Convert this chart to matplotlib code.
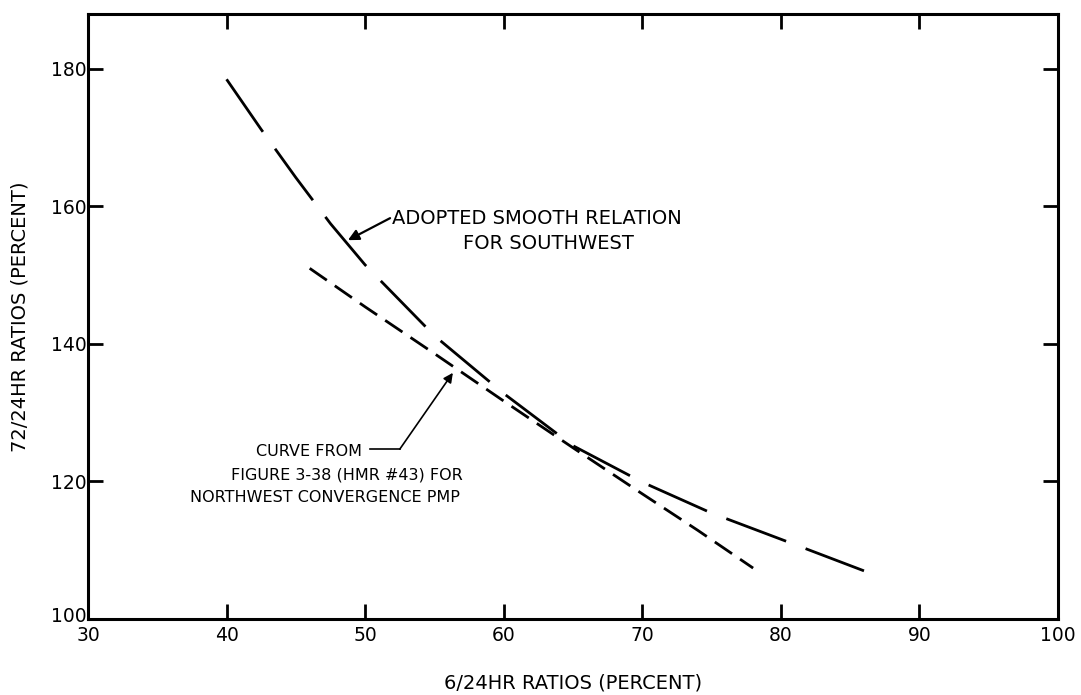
import matplotlib
matplotlib.use("Agg")
import matplotlib.pyplot as plt
import matplotlib.transforms as mtransforms

# ---- data ----
adopted_x = [40, 42.5, 45, 47.5, 50, 55, 60, 65, 70, 75, 80, 86]
adopted_y = [178.5, 171.2, 164.2, 157.5, 151.5, 141.2, 132.8, 125.2, 119.9, 115.4, 111.6, 107.0]

nw_x = [46, 50, 55, 60, 65, 70, 74, 78]
nw_y = [151.0, 145.4, 138.6, 131.7, 124.9, 118.2, 112.9, 107.4]

x_ticks = [30, 40, 50, 60, 70, 80, 90, 100]
y_ticks = [100, 120, 140, 160, 180]

x_label = "6/24HR RATIOS (PERCENT)"
y_label = "72/24HR RATIOS (PERCENT)"
label_adopted = ["ADOPTED SMOOTH RELATION", "FOR SOUTHWEST"]
label_nw = ["CURVE FROM", "FIGURE 3-38 (HMR #43) FOR", "NORTHWEST CONVERGENCE PMP"]

plt.rcParams['font.family'] = ['DejaVu Sans']
plt.rcParams['lines.scale_dashes'] = False

fig = plt.figure(figsize=(10.81, 6.95), dpi=100)
ax = fig.add_axes([0.0814, 0.1094, 0.8973, 0.8705])

ax.plot(adopted_x, adopted_y, color='black', lw=2.0, dashes=(46, 15), solid_capstyle='butt')
ax.plot(nw_x, nw_y, color='black', lw=2.0, dashes=(15, 7), solid_capstyle='butt')

ax.set_xlim(30, 100)
ax.set_ylim(100, 188)
ax.set_xticks(x_ticks)
ax.set_yticks(y_ticks)
ax.tick_params(direction='in', length=11, width=2, top=True, right=True,
               labelsize=13.5)
ax.tick_params(axis='y', pad=1)
ax.tick_params(axis='x', pad=5)
for s in ax.spines.values():
    s.set_linewidth(2.2)

# nudge the "100" y label up a little so it does not collide with "30"
offset = mtransforms.ScaledTranslation(0, 3 / 72, fig.dpi_scale_trans)
ylabels = ax.get_yticklabels()
ylabels[0].set_transform(ylabels[0].get_transform() + offset)

ax.set_xlabel(x_label, fontsize=14)
ax.set_ylabel(y_label, fontsize=14)
ax.xaxis.set_label_coords(0.5, -0.1058)
ax.xaxis.label.set_va('center')
ax.yaxis.set_label_coords(-0.070, 0.5)
ax.yaxis.label.set_va('center')

# Adopted annotation
ax.annotate("", xy=(48.76, 155.1), xytext=(51.8, 158.3),
            arrowprops=dict(arrowstyle='-|>', color='black', lw=1.6,
                            mutation_scale=16, shrinkA=0, shrinkB=0))
ax.text(51.93, 158.3, label_adopted[0], ha='left', va='center', fontsize=14)
ax.text(63.26, 154.65, label_adopted[1], ha='center', va='center', fontsize=14)

# NW annotation
ax.plot([50.35, 52.5], [124.7, 124.7], color='black', lw=1.2)
ax.annotate("", xy=(56.33, 135.8), xytext=(52.5, 124.7),
            arrowprops=dict(arrowstyle='-|>', color='black', lw=1.2,
                            mutation_scale=14, shrinkA=0, shrinkB=0))
ax.text(49.77, 124.42, label_nw[0], ha='right', va='center', fontsize=11.5)
ax.text(48.69, 120.93, label_nw[1], ha='center', va='center', fontsize=11.5)
ax.text(47.1, 117.6, label_nw[2], ha='center', va='center', fontsize=11.5)

fig.savefig("out.png", dpi=100)
